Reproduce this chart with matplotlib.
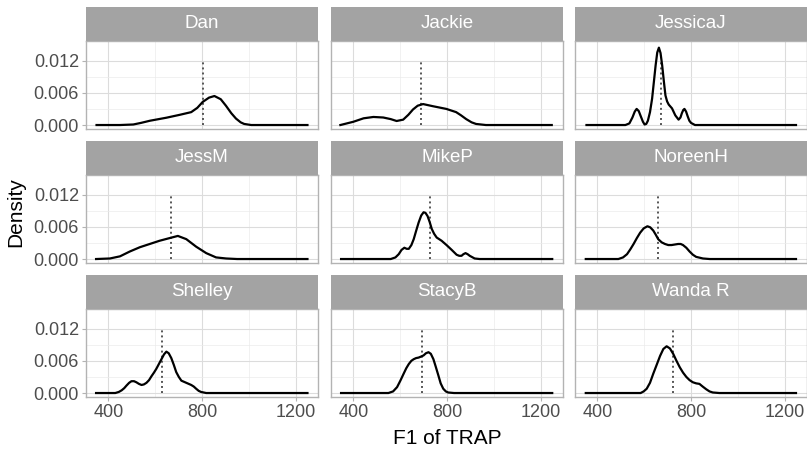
import matplotlib

matplotlib.use("Agg")
import matplotlib.pyplot as plt

plt.rcParams["font.family"] = ["Liberation Sans", "DejaVu Sans"]

SPEAKERS = ["Dan", "Jackie", "JessicaJ", "JessM", "MikeP", "NoreenH", "Shelley", "StacyB", "Wanda R"]

# density curves (F1 in Hz, density)
DAN_X = [350, 450, 507, 540, 578, 648, 705, 754, 780, 803, 830, 853, 880, 902, 925, 945, 965, 980, 1010, 1250]
DAN_Y = [0, 0, 0.0001, 0.0004, 0.0008, 0.00136, 0.0019, 0.0024, 0.0032, 0.0043, 0.0051, 0.0054, 0.0048, 0.0036, 0.0022, 0.0012, 0.0005, 0.0002, 0, 0]
JACKIE_X = [345, 400, 444, 486, 528, 560, 585, 613, 635, 655, 675, 698, 740, 797, 839, 860, 882, 905, 924, 966, 1247]
JACKIE_Y = [0, 0.0006, 0.00125, 0.0015, 0.0014, 0.0011, 0.00075, 0.001, 0.0019, 0.0029, 0.0036, 0.0039, 0.0035, 0.003, 0.0024, 0.0018, 0.0011, 0.0005, 0.0002, 0, 0]
JESSICAJ_X = [354, 520, 537, 550, 560, 568, 577, 585, 595, 602, 609, 616, 625, 634, 642, 649, 656, 663, 670, 677, 684, 691, 698, 705, 719, 733, 747, 755, 761, 767, 772, 779, 786, 793, 800, 817, 1248]
JESSICAJ_Y = [0, 0, 0.0003, 0.0014, 0.0025, 0.003, 0.0026, 0.0017, 0.0006, 0.0001, 0.0002, 0.0008, 0.0024, 0.0049, 0.0082, 0.0111, 0.0135, 0.0144, 0.0134, 0.0111, 0.0082, 0.0055, 0.0044, 0.0038, 0.0031, 0.0018, 0.001, 0.0014, 0.0022, 0.0028, 0.003, 0.0025, 0.0016, 0.0008, 0.0004, 0, 0]
JESSM_X = [348, 407, 450, 492, 535, 577, 619, 662, 697, 733, 775, 818, 860, 903, 950, 1250]
JESSM_Y = [0, 0.0001, 0.0005, 0.0014, 0.0022, 0.0028, 0.0034, 0.0039, 0.0043, 0.0037, 0.0023, 0.0011, 0.0003, 0.0001, 0, 0]
MIKEP_X = [348, 560, 580, 594, 606, 618, 628, 637, 648, 658, 668, 679, 690, 700, 708, 717, 726, 735, 745, 756, 777, 798, 820, 841, 852, 862, 870, 879, 888, 897, 918, 939, 1249]
MIKEP_Y = [0, 0, 0.0003, 0.0009, 0.0017, 0.0021, 0.0019, 0.0019, 0.0026, 0.0037, 0.0052, 0.0068, 0.0081, 0.0087, 0.0086, 0.008, 0.0069, 0.0056, 0.0047, 0.004, 0.0034, 0.0026, 0.0017, 0.0008, 0.0006, 0.0006, 0.0009, 0.0011, 0.0009, 0.0006, 0.0001, 0, 0]
NOREENH_X = [351, 490, 510, 527, 541, 555, 569, 583, 598, 614, 626, 639, 650, 660, 675, 689, 703, 717, 731, 745, 756, 766, 780, 794, 808, 822, 851, 880, 1248]
NOREENH_Y = [0, 0, 0.0003, 0.0009, 0.0018, 0.0028, 0.0039, 0.0049, 0.0057, 0.0061, 0.0059, 0.0053, 0.0045, 0.0037, 0.0031, 0.0028, 0.0026, 0.0026, 0.0027, 0.0028, 0.0028, 0.0026, 0.0021, 0.0014, 0.0008, 0.0004, 0.0001, 0, 0]
SHELLEY_X = [348, 430, 445, 457, 468, 478, 489, 499, 510, 520, 531, 542, 552, 563, 574, 584, 595, 605, 616, 627, 638, 648, 658, 669, 680, 690, 701, 712, 733, 754, 765, 775, 786, 796, 818, 1250]
SHELLEY_Y = [0, 0, 0.0002, 0.0005, 0.0009, 0.0014, 0.0019, 0.0022, 0.0022, 0.002, 0.0017, 0.0015, 0.0016, 0.0019, 0.0024, 0.0031, 0.0038, 0.0045, 0.0054, 0.0063, 0.0072, 0.0077, 0.0074, 0.0065, 0.0052, 0.0039, 0.003, 0.0023, 0.0019, 0.0015, 0.0012, 0.0008, 0.0004, 0.0002, 0, 0]
STACYB_X = [348, 550, 570, 587, 601, 615, 626, 637, 648, 658, 668, 679, 690, 700, 710, 721, 731, 742, 752, 763, 773, 784, 795, 805, 830, 1249]
STACYB_Y = [0, 0, 0.0003, 0.0011, 0.0023, 0.0036, 0.0046, 0.0054, 0.006, 0.0063, 0.0065, 0.0066, 0.0068, 0.007, 0.0074, 0.0076, 0.0073, 0.0063, 0.0049, 0.0033, 0.0018, 0.0008, 0.0003, 0.0001, 0, 0]
WANDA_X = [351, 585, 598, 611, 625, 639, 654, 668, 682, 696, 710, 724, 738, 752, 766, 780, 794, 808, 822, 836, 850, 865, 879, 893, 921, 1248]
WANDA_Y = [0, 0, 0.0003, 0.0008, 0.0019, 0.0036, 0.0053, 0.0069, 0.0082, 0.0087, 0.0083, 0.0073, 0.006, 0.0048, 0.0038, 0.003, 0.0024, 0.002, 0.0018, 0.0017, 0.0012, 0.0007, 0.0003, 0.0001, 0, 0]

CURVES_X = [DAN_X, JACKIE_X, JESSICAJ_X, JESSM_X, MIKEP_X, NOREENH_X, SHELLEY_X, STACYB_X, WANDA_X]
CURVES_Y = [DAN_Y, JACKIE_Y, JESSICAJ_Y, JESSM_Y, MIKEP_Y, NOREENH_Y, SHELLEY_Y, STACYB_Y, WANDA_Y]
# dotted reference line per speaker
MEANS = [803, 691, 670, 669, 728, 658, 629, 693, 724]

X_TICKS = [400, 800, 1200]
Y_TICKS = [0.0, 0.006, 0.012]
Y_TICK_LABELS = ["0.000", "0.006", "0.012"]

W, H = 807, 451
fig = plt.figure(figsize=(W / 100, H / 100), dpi=100)

col_left = [86, 331, 575]
panel_w = 232
row_top = [41, 175, 309]
panel_h = 88
strip_h = 34

for i, name in enumerate(SPEAKERS):
    r, c = divmod(i, 3)
    left = col_left[c] / W
    bottom = 1 - (row_top[r] + panel_h) / H
    ax = fig.add_axes([left, bottom, panel_w / W, panel_h / H])
    ax.plot(CURVES_X[i], CURVES_Y[i], color="black", lw=1.6, zorder=3, solid_joinstyle="round")
    ax.vlines(MEANS[i], 0, 0.012, color="#555555", linestyles=(0, (1, 1.6)), lw=1.4, zorder=2)
    ax.set_xlim(305, 1295)
    ax.set_ylim(-0.00074, 0.01564)
    ax.set_xticks(X_TICKS)
    ax.set_xticks([600, 1000], minor=True)
    ax.set_yticks(Y_TICKS)
    ax.set_yticks([0.003, 0.009], minor=True)
    ax.grid(which="major", color="#dcdcdc", lw=0.8)
    ax.grid(which="minor", color="#ebebeb", lw=0.5)
    ax.set_axisbelow(True)
    for s in ax.spines.values():
        s.set_color("#b3b3b3")
        s.set_linewidth(1.0)
    ax.tick_params(which="minor", length=0)
    ax.tick_params(which="major", length=3, color="#b3b3b3", labelcolor="#4d4d4d", labelsize=13, pad=2)
    if c == 0:
        ax.set_yticklabels(Y_TICK_LABELS)
    else:
        ax.tick_params(axis="y", which="major", length=0, labelleft=False)
    if r == 2:
        ax.set_xticklabels([str(t) for t in X_TICKS])
    else:
        ax.tick_params(axis="x", which="major", length=0, labelbottom=False)

    sax = fig.add_axes([left, 1 - row_top[r] / H, panel_w / W, strip_h / H])
    sax.set_facecolor("#a3a3a3")
    sax.set_xticks([])
    sax.set_yticks([])
    for s in sax.spines.values():
        s.set_visible(False)
    sax.text(0.5, 0.5, name, color="white", fontsize=13.5, ha="center", va="center", transform=sax.transAxes)

fig.text((col_left[1] + panel_w / 2) / W, 1 - 439 / H, "F1 of TRAP", ha="center", va="center", fontsize=15)
fig.text(16 / W, 1 - 212 / H, "Density", ha="center", va="center", rotation=90, fontsize=15)

fig.savefig("out.png", dpi=100)
